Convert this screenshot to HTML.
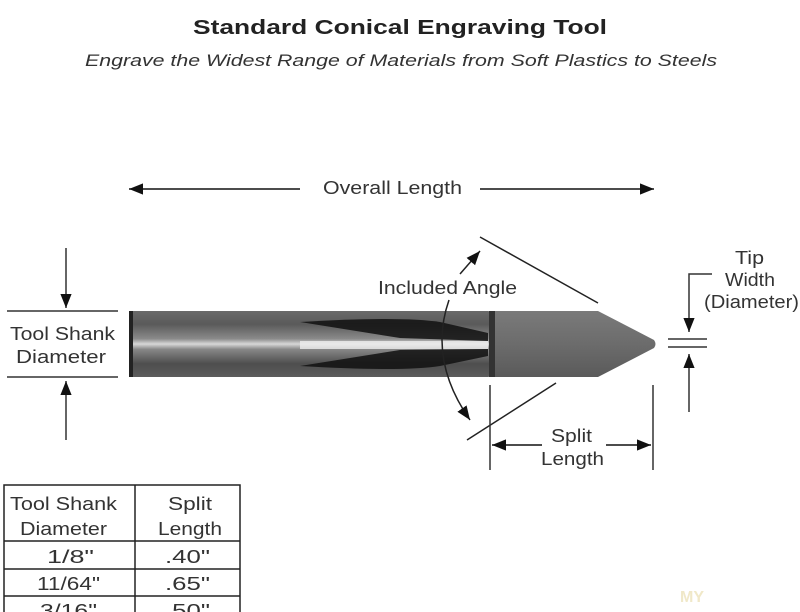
<!DOCTYPE html>
<html><head><meta charset="utf-8"><style>
html,body{margin:0;padding:0;background:#fff;width:800px;height:612px;overflow:hidden}
svg{display:block}
text{font-family:"Liberation Sans",sans-serif;fill:#333}
</style></head><body>
<svg width="800" height="612" viewBox="0 0 800 612">
<defs>
<marker id="b" viewBox="0 0 10 10" refX="10" refY="5" markerWidth="14" markerHeight="14" markerUnits="userSpaceOnUse" orient="auto"><path d="M0,1L10,5L0,9z" fill="#111"/></marker>
<linearGradient id="sh" x1="0" y1="0" x2="0" y2="1">
<stop offset="0" stop-color="#6a6a6a"/><stop offset="0.2" stop-color="#5a5a5a"/><stop offset="0.42" stop-color="#8a8a8a"/><stop offset="0.5" stop-color="#d8d8d8"/><stop offset="0.58" stop-color="#888"/><stop offset="0.8" stop-color="#4e4e4e"/><stop offset="1" stop-color="#5c5c5c"/></linearGradient>
<linearGradient id="tp" x1="0" y1="0" x2="0" y2="1">
<stop offset="0" stop-color="#7a7a7a"/><stop offset="0.5" stop-color="#6c6c6c"/><stop offset="1" stop-color="#5a5a5a"/></linearGradient>
</defs>
<text x="193" y="34" textLength="414" lengthAdjust="spacingAndGlyphs" font-size="20" font-weight="bold" style="fill:#222">Standard Conical Engraving Tool</text>
<text x="85" y="66" textLength="632" lengthAdjust="spacingAndGlyphs" font-size="17" font-style="italic" style="fill:#333">Engrave the Widest Range of Materials from Soft Plastics to Steels</text>

<line x1="300" y1="189" x2="129" y2="189" stroke="#111" stroke-width="1.5" marker-end="url(#b)"/>
<line x1="480" y1="189" x2="654" y2="189" stroke="#111" stroke-width="1.5" marker-end="url(#b)"/>
<text x="323" y="194" textLength="139" lengthAdjust="spacingAndGlyphs" font-size="18">Overall Length</text>

<line x1="7" y1="311" x2="118" y2="311" stroke="#333" stroke-width="1.5"/>
<line x1="7" y1="377" x2="118" y2="377" stroke="#333" stroke-width="1.5"/>
<line x1="66" y1="248" x2="66" y2="308" stroke="#333" stroke-width="1.5" marker-end="url(#b)"/>
<line x1="66" y1="440" x2="66" y2="381" stroke="#333" stroke-width="1.5" marker-end="url(#b)"/>
<text x="10" y="340" textLength="105" lengthAdjust="spacingAndGlyphs" font-size="18">Tool Shank</text>
<text x="16" y="363" textLength="90" lengthAdjust="spacingAndGlyphs" font-size="18">Diameter</text>

<rect x="129" y="311" width="362" height="66" rx="3" fill="url(#sh)"/>
<rect x="129" y="311" width="4" height="66" fill="#222"/>
<path d="M300,322 Q400,316 440,322 L488,333 L488,341 L400,338Z" fill="#111" opacity="0.85"/>
<path d="M300,366 Q400,372 440,366 L488,356 L488,349 L400,350Z" fill="#111" opacity="0.85"/>
<rect x="300" y="341" width="188" height="8" fill="#eee" opacity="0.8"/>
<path d="M491,311 L598,311 L654,340 Q657,344 654,348 L598,377 L491,377Z" fill="url(#tp)"/>
<rect x="489" y="311" width="6" height="66" fill="#333"/>

<line x1="480" y1="237" x2="598" y2="303" stroke="#222" stroke-width="1.5"/>
<line x1="467" y1="440" x2="556" y2="383" stroke="#222" stroke-width="1.5"/>
<path d="M449,300 Q428,360 470,420" fill="none" stroke="#222" stroke-width="1.5" marker-end="url(#b)"/>
<line x1="460" y1="274" x2="480" y2="251" stroke="#222" stroke-width="1.5" marker-end="url(#b)"/>
<text x="378" y="294" textLength="139" lengthAdjust="spacingAndGlyphs" font-size="18">Included Angle</text>

<line x1="490" y1="385" x2="490" y2="470" stroke="#333" stroke-width="1.5"/>
<line x1="653" y1="385" x2="653" y2="470" stroke="#333" stroke-width="1.5"/>
<line x1="542" y1="445" x2="492" y2="445" stroke="#111" stroke-width="1.5" marker-end="url(#b)"/>
<line x1="606" y1="445" x2="651" y2="445" stroke="#111" stroke-width="1.5" marker-end="url(#b)"/>
<text x="551" y="442" textLength="41" lengthAdjust="spacingAndGlyphs" font-size="18">Split</text>
<text x="541" y="465" textLength="63" lengthAdjust="spacingAndGlyphs" font-size="18">Length</text>

<path d="M712,274 L689,274 L689,332" fill="none" stroke="#333" stroke-width="1.5" marker-end="url(#b)"/>
<line x1="668" y1="339" x2="707" y2="339" stroke="#333" stroke-width="1.5"/>
<line x1="668" y1="347" x2="707" y2="347" stroke="#333" stroke-width="1.5"/>
<line x1="689" y1="412" x2="689" y2="354" stroke="#333" stroke-width="1.5" marker-end="url(#b)"/>
<text x="735" y="264" textLength="29" lengthAdjust="spacingAndGlyphs" font-size="18">Tip</text>
<text x="725" y="286" textLength="50" lengthAdjust="spacingAndGlyphs" font-size="18">Width</text>
<text x="704" y="308" textLength="95" lengthAdjust="spacingAndGlyphs" font-size="18">(Diameter)</text>

<g stroke="#222" stroke-width="1.5" fill="none">
<path d="M4,612 L4,485 L240,485 L240,612"/>
<line x1="135" y1="485" x2="135" y2="612"/>
<line x1="4" y1="541" x2="240" y2="541"/>
<line x1="4" y1="569" x2="240" y2="569"/>
<line x1="4" y1="596" x2="240" y2="596"/>
</g>
<g font-size="18">
<text x="10" y="510" textLength="107" lengthAdjust="spacingAndGlyphs">Tool Shank</text><text x="20" y="535" textLength="87" lengthAdjust="spacingAndGlyphs">Diameter</text>
<text x="168" y="510" textLength="44" lengthAdjust="spacingAndGlyphs">Split</text><text x="158" y="535" textLength="64" lengthAdjust="spacingAndGlyphs">Length</text>
<text x="47" y="563" textLength="47" lengthAdjust="spacingAndGlyphs">1/8"</text><text x="165" y="563" textLength="45" lengthAdjust="spacingAndGlyphs">.40"</text>
<text x="37" y="590" textLength="63" lengthAdjust="spacingAndGlyphs">11/64"</text><text x="165" y="590" textLength="45" lengthAdjust="spacingAndGlyphs">.65"</text>
<text x="40" y="617" textLength="57" lengthAdjust="spacingAndGlyphs">3/16"</text><text x="165" y="617" textLength="45" lengthAdjust="spacingAndGlyphs">.50"</text>
</g>
<text x="680" y="602" font-size="16" font-weight="bold" style="fill:#f0e8c8">MY</text>
</svg>
</body></html>
